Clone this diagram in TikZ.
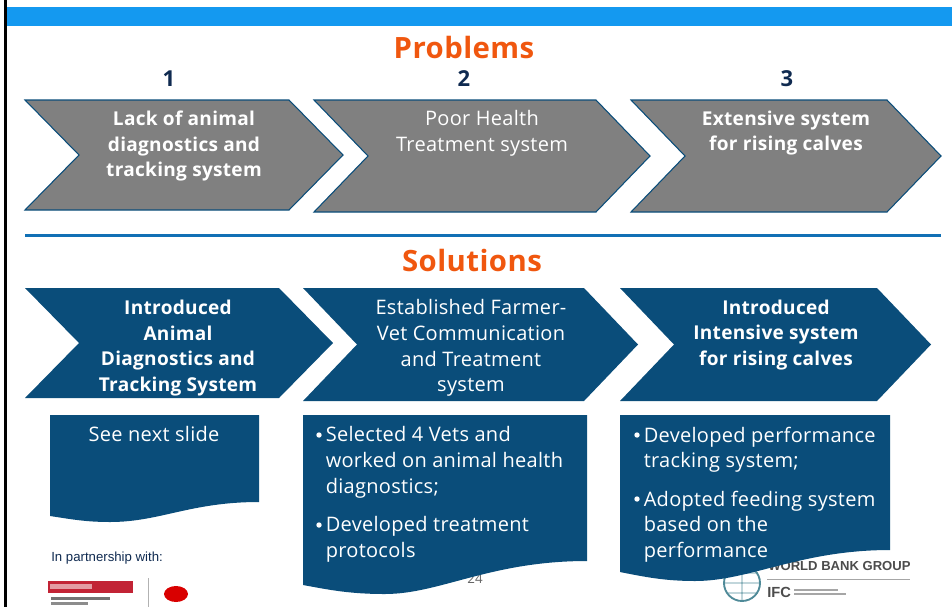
\documentclass[tikz,border=0pt]{standalone}
\usepackage{fontspec}
\setmainfont[LetterSpace=1.5]{Open Sans}
\newfontfamily\arialfont{Liberation Sans}
\definecolor{topblue}{HTML}{1499F0}
\definecolor{linecol}{HTML}{1170B5}
\definecolor{navy}{HTML}{0A4D7A}
\definecolor{probgray}{HTML}{808080}
\definecolor{headorange}{HTML}{F0570F}
\definecolor{numnavy}{HTML}{0F2A50}
\definecolor{logored}{HTML}{C22335}
\definecolor{globeteal}{HTML}{4F8A98}
\begin{document}
\begin{tikzpicture}[x=0.75pt,y=-0.75pt]
	\tikzstyle{chevgray}=[fill=probgray,draw=navy,line width=0.8pt]
	\tikzstyle{chevblue}=[fill=navy]
	\tikzstyle{wavebox}=[fill=navy]
	\tikzstyle{head}=[text=headorange,font=\fontsize{22}{26}\selectfont\bfseries]
	\tikzstyle{num}=[text=numnavy,font=\fontsize{16.5}{20}\selectfont\bfseries]
	\tikzstyle{lab}=[text=white,align=center,font=\fontsize{15}{19.3}\selectfont]
	\tikzstyle{blab}=[lab,font=\fontsize{14.3}{19.3}\selectfont\bfseries]
	\tikzstyle{item}=[text=white,anchor=north west,align=left,font=\fontsize{15}{19.3}\selectfont,inner sep=0pt]
	\useasboundingbox (0,0) rectangle (952,607);
	% slide edge and top band
	\fill[black] (4,0) rectangle (7,607);
	\fill[topblue] (7,7) rectangle (952,26);
	\node[head](problems) at (464,47){Problems};
	\node[num](num-1) at (169,79){1};
	\node[num](num-2) at (464,79){2};
	\node[num](num-3) at (787,79){3};
	% problem chevrons: left, notch, shoulder, tip, bottom
	\foreach \l/\n/\s/\t/\b in {25/79/289/343/210,314/368/596/650/212,631/685/887/941/212}{
	\draw[chevgray] (\l,100) -- (\s,100) -- (\t,{(100+\b)/2}) -- (\s,\b) -- (\l,\b) -- (\n,{(100+\b)/2}) -- cycle;
	}
	\node[blab](prob-1) at (184,146){Lack of animal\\diagnostics and\\tracking system};
	\node[lab](prob-2) at (482,133){Poor Health\\Treatment system};
	\node[blab](prob-3) at (786,133){Extensive system\\for rising calves};
	\fill[linecol] (25,233.5) rectangle (941,236.5);
	\node[head](solutions) at (472,260){Solutions};
	% solution chevrons
	\foreach \l/\n/\s/\t/\b in {25/79/279/333/398,303/357/584/638/401,620/674/877/931/401}{
	\fill[chevblue] (\l,288) -- (\s,288) -- (\t,{(288+\b)/2}) -- (\s,\b) -- (\l,\b) -- (\n,{(288+\b)/2}) -- cycle;
	}
	\node[blab,align=center](sol-1) at (178,348){Introduced\\Animal\\Diagnostics and\\Tracking System};
	\node[lab](sol-2) at (471,348){Established Farmer-\\Vet Communication\\and Treatment\\system};
	\node[blab](sol-3) at (776,335){Introduced\\Intensive system\\for rising calves};
	% footer, under the boxes
	\node[text=black!60,font=\fontsize{10}{12}\selectfont](page) at (475,579){24};
	\node[text=numnavy,anchor=west,inner sep=0pt,font=\arialfont\fontsize{9.9}{11}\selectfont](partner) at (51,558){In partnership with:};
	\fill[logored] (48,581) rectangle (133,593);
	\fill[white,opacity=.55] (50,584) rectangle (92,589);
	\fill[black!55] (51,597) rectangle (110,600);
	\fill[black!45] (51,602) rectangle (88,605);
	\draw[black!30] (148,578) -- (148,607);
	\fill[red!85!black] (176,594) ellipse (12 and 8);
	\draw[globeteal,line width=1.4pt] (742,583) circle (18);
	\draw[globeteal] (742,565) arc (90:270:9 and 18) arc (270:450:9 and 18) (724,583) -- (760,583) (742,565) -- (742,601) (727,573) -- (757,573) (727,593) -- (757,593);
	\node[text=black!70,anchor=west,inner sep=0pt,font=\arialfont\fontsize{9.8}{12}\selectfont\bfseries](wbg) at (768,566){WORLD BANK GROUP};
	\draw[black!35] (767,579) -- (910,579);
	\node[text=black!70,anchor=west,inner sep=0pt,font=\arialfont\fontsize{11}{12}\selectfont\bfseries](ifc) at (767,592){IFC};
	\fill[black!35] (794,589) rectangle (838,591);
	\fill[black!35] (794,593) rectangle (846,595);
	% text boxes
	\fill[wavebox] (50,415) -- (259,415) -- (259,502) .. controls (190,502) and (160,522) .. (110,522) .. controls (85,522) and (70,519) .. (50,516) -- cycle;
	\fill[wavebox] (303,415) -- (587,415) -- (587,561) .. controls (490,561) and (440,594) .. (385,594) .. controls (350,594) and (330,590) .. (303,585) -- cycle;
	\fill[wavebox] (620,415) -- (890,415) -- (890,550) .. controls (800,550) and (750,581) .. (695,581) .. controls (665,581) and (645,577) .. (620,572) -- cycle;
	\node[lab](next) at (154,434){See next slide};
	\foreach \x/\y/\n/\txt in {315/434/a/{Selected 4 Vets and\\worked on animal health\\diagnostics;},315/524/b/{Developed treatment\\protocols},633/434/c/{Developed performance\\tracking system;},633/498/d/{Adopted feeding system\\based on the\\performance}}{
	\fill[white] (\x+4,\y+1) circle (2.7);
	\node[item](item-\n) at (\x+10.5,\y-7.5){\txt};
	}
\end{tikzpicture}
\end{document}
